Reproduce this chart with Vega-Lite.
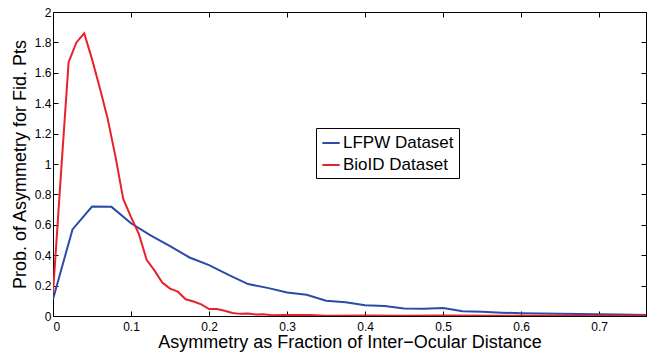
{
  "$schema": "https://vega.github.io/schema/vega-lite/v6.json",
  "autosize": {"type": "none"},
  "padding": {"left": 53, "top": 12, "right": 7, "bottom": 38},
  "width": 593,
  "height": 304,
  "background": "white",
  "config": {
    "font": "Liberation Sans",
    "view": {"stroke": "black", "strokeWidth": 1},
    "axis": {"grid": false, "domainColor": "black", "tickColor": "black", "labelColor": "black", "titleColor": "black", "labelFontSize": 12, "titleFontSize": 18, "titleFontWeight": "normal", "tickSize": -5}
  },
  "data": {"values": [
    {"x": 0.0, "y": 0.11, "s": "LFPW Dataset"},
    {"x": 0.025, "y": 0.57, "s": "LFPW Dataset"},
    {"x": 0.05, "y": 0.72, "s": "LFPW Dataset"},
    {"x": 0.075, "y": 0.718, "s": "LFPW Dataset"},
    {"x": 0.1, "y": 0.61, "s": "LFPW Dataset"},
    {"x": 0.125, "y": 0.53, "s": "LFPW Dataset"},
    {"x": 0.15, "y": 0.46, "s": "LFPW Dataset"},
    {"x": 0.175, "y": 0.385, "s": "LFPW Dataset"},
    {"x": 0.2, "y": 0.335, "s": "LFPW Dataset"},
    {"x": 0.225, "y": 0.27, "s": "LFPW Dataset"},
    {"x": 0.25, "y": 0.21, "s": "LFPW Dataset"},
    {"x": 0.275, "y": 0.185, "s": "LFPW Dataset"},
    {"x": 0.3, "y": 0.155, "s": "LFPW Dataset"},
    {"x": 0.325, "y": 0.14, "s": "LFPW Dataset"},
    {"x": 0.35, "y": 0.1, "s": "LFPW Dataset"},
    {"x": 0.375, "y": 0.09, "s": "LFPW Dataset"},
    {"x": 0.4, "y": 0.07, "s": "LFPW Dataset"},
    {"x": 0.425, "y": 0.066, "s": "LFPW Dataset"},
    {"x": 0.45, "y": 0.05, "s": "LFPW Dataset"},
    {"x": 0.475, "y": 0.047, "s": "LFPW Dataset"},
    {"x": 0.5, "y": 0.052, "s": "LFPW Dataset"},
    {"x": 0.525, "y": 0.032, "s": "LFPW Dataset"},
    {"x": 0.55, "y": 0.028, "s": "LFPW Dataset"},
    {"x": 0.575, "y": 0.022, "s": "LFPW Dataset"},
    {"x": 0.6, "y": 0.018, "s": "LFPW Dataset"},
    {"x": 0.625, "y": 0.016, "s": "LFPW Dataset"},
    {"x": 0.65, "y": 0.014, "s": "LFPW Dataset"},
    {"x": 0.675, "y": 0.013, "s": "LFPW Dataset"},
    {"x": 0.7, "y": 0.012, "s": "LFPW Dataset"},
    {"x": 0.725, "y": 0.01, "s": "LFPW Dataset"},
    {"x": 0.76, "y": 0.007, "s": "LFPW Dataset"},
    {"x": 0.0, "y": 0.15, "s": "BioID Dataset"},
    {"x": 0.01, "y": 0.92, "s": "BioID Dataset"},
    {"x": 0.02, "y": 1.67, "s": "BioID Dataset"},
    {"x": 0.03, "y": 1.8, "s": "BioID Dataset"},
    {"x": 0.04, "y": 1.86, "s": "BioID Dataset"},
    {"x": 0.05, "y": 1.69, "s": "BioID Dataset"},
    {"x": 0.06, "y": 1.5, "s": "BioID Dataset"},
    {"x": 0.07, "y": 1.3, "s": "BioID Dataset"},
    {"x": 0.08, "y": 1.05, "s": "BioID Dataset"},
    {"x": 0.09, "y": 0.77, "s": "BioID Dataset"},
    {"x": 0.1, "y": 0.65, "s": "BioID Dataset"},
    {"x": 0.11, "y": 0.54, "s": "BioID Dataset"},
    {"x": 0.12, "y": 0.37, "s": "BioID Dataset"},
    {"x": 0.13, "y": 0.3, "s": "BioID Dataset"},
    {"x": 0.14, "y": 0.22, "s": "BioID Dataset"},
    {"x": 0.15, "y": 0.18, "s": "BioID Dataset"},
    {"x": 0.16, "y": 0.16, "s": "BioID Dataset"},
    {"x": 0.17, "y": 0.11, "s": "BioID Dataset"},
    {"x": 0.18, "y": 0.095, "s": "BioID Dataset"},
    {"x": 0.19, "y": 0.077, "s": "BioID Dataset"},
    {"x": 0.2, "y": 0.046, "s": "BioID Dataset"},
    {"x": 0.21, "y": 0.046, "s": "BioID Dataset"},
    {"x": 0.22, "y": 0.035, "s": "BioID Dataset"},
    {"x": 0.23, "y": 0.02, "s": "BioID Dataset"},
    {"x": 0.24, "y": 0.014, "s": "BioID Dataset"},
    {"x": 0.25, "y": 0.016, "s": "BioID Dataset"},
    {"x": 0.26, "y": 0.01, "s": "BioID Dataset"},
    {"x": 0.27, "y": 0.012, "s": "BioID Dataset"},
    {"x": 0.28, "y": 0.005, "s": "BioID Dataset"},
    {"x": 0.3, "y": 0.006, "s": "BioID Dataset"},
    {"x": 0.33, "y": 0.006, "s": "BioID Dataset"},
    {"x": 0.35, "y": 0.002, "s": "BioID Dataset"},
    {"x": 0.4, "y": 0.003, "s": "BioID Dataset"},
    {"x": 0.45, "y": 0.002, "s": "BioID Dataset"},
    {"x": 0.5, "y": 0.003, "s": "BioID Dataset"},
    {"x": 0.6, "y": 0.002, "s": "BioID Dataset"},
    {"x": 0.7, "y": 0.002, "s": "BioID Dataset"},
    {"x": 0.76, "y": 0.002, "s": "BioID Dataset"}
  ]},
  "layer": [
    {
      "mark": {"type": "line", "strokeWidth": 2, "clip": true},
      "encoding": {
        "x": {"field": "x", "type": "quantitative", "scale": {"domain": [0, 0.76], "nice": false},
              "axis": {"orient": "bottom", "values": [0, 0.1, 0.2, 0.3, 0.4, 0.5, 0.6, 0.7], "format": "~g", "labelPadding": 10, "title": "Asymmetry as Fraction of Inter\u2212Ocular Distance", "titleY": 31, "titleBaseline": "alphabetic"}},
        "y": {"field": "y", "type": "quantitative", "scale": {"domain": [0, 2], "nice": false},
              "axis": {"orient": "left", "values": [0, 0.2, 0.4, 0.6, 0.8, 1, 1.2, 1.4, 1.6, 1.8, 2], "format": "~g", "labelPadding": 7, "title": "Prob. of Asymmetry for Fid. Pts", "titleX": -28, "titleBaseline": "alphabetic"}},
        "color": {"field": "s", "type": "nominal", "sort": ["LFPW Dataset", "BioID Dataset"],
                  "scale": {"domain": ["LFPW Dataset", "BioID Dataset"], "range": ["#2b4ca6", "#e8212b"]},
                  "legend": {"title": null, "orient": "none", "legendX": 263, "legendY": 116, "symbolType": "stroke", "symbolSize": 300, "symbolStrokeWidth": 2, "labelFontSize": 17, "labelColor": "black", "strokeColor": "black", "padding": 5, "rowPadding": 4, "fillColor": "white", "labelOffset": 2}}
      }
    },
    {
      "mark": {"type": "point", "opacity": 0},
      "encoding": {
        "x": {"field": "x", "type": "quantitative", "axis": {"orient": "top", "values": [0, 0.1, 0.2, 0.3, 0.4, 0.5, 0.6, 0.7], "labels": false, "title": null}},
        "y": {"field": "y", "type": "quantitative", "axis": {"orient": "right", "values": [0, 0.2, 0.4, 0.6, 0.8, 1, 1.2, 1.4, 1.6, 1.8, 2], "labels": false, "title": null}}
      }
    }
  ],
  "resolve": {"axis": {"x": "independent", "y": "independent"}}
}
